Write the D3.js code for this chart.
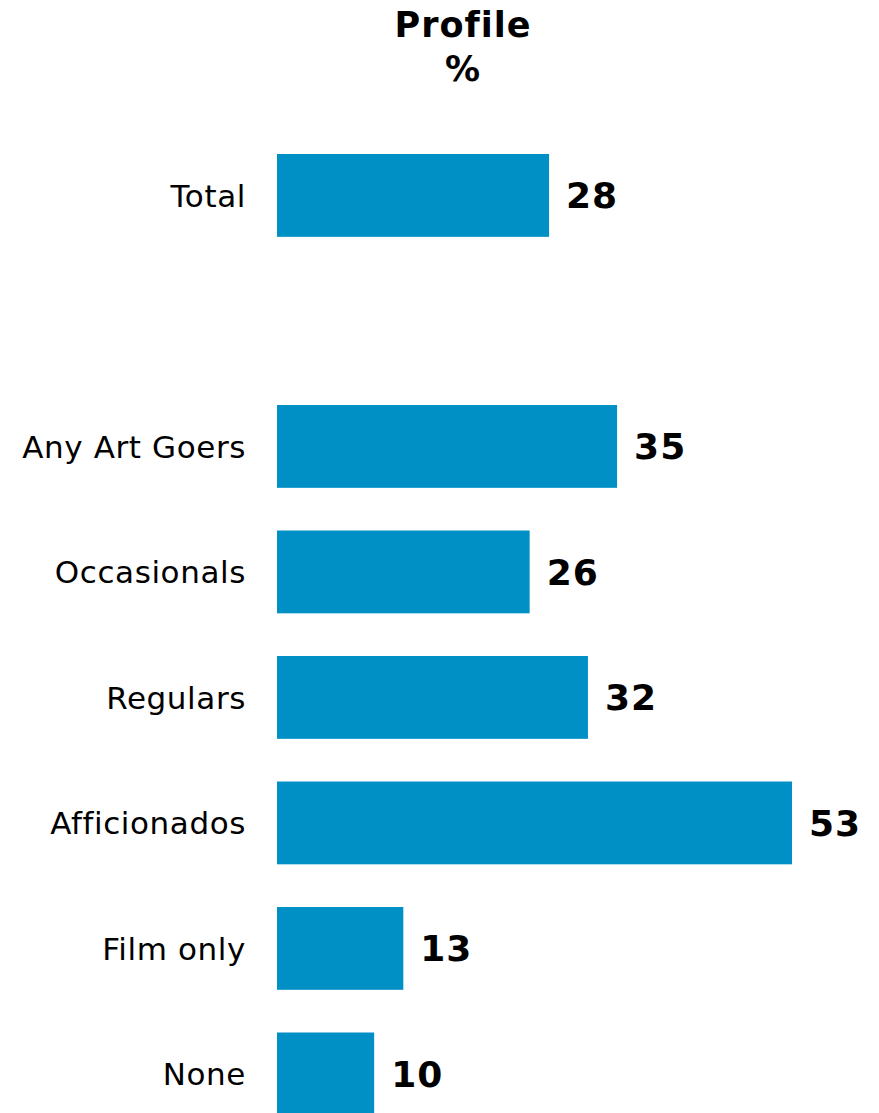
<!DOCTYPE html>
<head>
  <meta charset="utf-8">
<style>
body{
  margin: 0;
  background-color: white;
  font-family: "DejaVu Sans", Verdana, sans-serif;
}
.label{
  font-size: 31px;
  letter-spacing: 0.6px;
  fill: #000;
}
.value{
  font-size: 36px;
  font-weight: bold;
  letter-spacing: 1px;
  fill: #000;
}
.title{
  font-size: 35px;
  font-weight: bold;
  letter-spacing: 1px;
}
</style>
</head>
<body>
  <svg width="879" height="1113"></svg>
</body>

<script src="https://d3js.org/d3.v7.min.js"></script>
<script>

// data
var categories = ["Total", "", "Any Art Goers", "Occasionals", "Regulars", "Afficionados", "Film only", "None"];
var values = [28, null, 35, 26, 32, 53, 13, 10];
var titleLines = ["Profile", "%"];

var data = categories.map((c, i) => ({cat: c, key: c || "gap" + i, value: values[i]}));

var svg = d3.select("svg"),
    width = +svg.attr("width"),
    height = +svg.attr("height");

var y = d3.scaleBand()
  .domain(data.map(d => d.key))
  .range([154, 154 + 125.5 * 8 - 0.34 * 125.5])
  .paddingInner(0.34)
  .paddingOuter(0);

var x = d3.scaleLinear()
  .domain([0, 53])
  .range([277, 792]);

svg.selectAll(".title")
  .data(titleLines)
  .enter().append("text")
  .attr("class", "title")
  .attr("x", 463)
  .attr("y", (d, i) => 37 + i * 44)
  .attr("text-anchor", "middle")
  .text(d => d);

var bars = data.filter(d => d.value != null);

svg.selectAll(".bar")
  .data(bars)
  .enter().append("rect")
  .attr("class", "bar")
  .attr("x", x(0))
  .attr("y", d => y(d.key))
  .attr("width", d => x(d.value) - x(0))
  .attr("height", y.bandwidth())
  .attr("fill", "#0090c6");

svg.selectAll(".label")
  .data(bars)
  .enter().append("text")
  .attr("class", "label")
  .attr("x", x(0) - 31)
  .attr("y", d => y(d.key) + y.bandwidth() / 2)
  .attr("dy", "0.36em")
  .attr("text-anchor", "end")
  .text(d => d.cat);

svg.selectAll(".value")
  .data(bars)
  .enter().append("text")
  .attr("class", "value")
  .attr("x", d => x(d.value) + 17)
  .attr("y", d => y(d.key) + y.bandwidth() / 2)
  .attr("dy", "0.36em")
  .text(d => d.value);

</script>
